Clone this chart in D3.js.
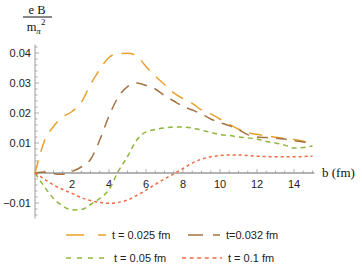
<!DOCTYPE html>
<html>
<head>
<meta charset="utf-8">
<script src="https://cdn.jsdelivr.net/npm/d3@7"></script>
<style>
  body { margin: 0; background: #fff; }
  text { font-family: 'Liberation Sans', Arial, sans-serif; }
</style>
</head>
<body>
<svg id="chart" width="362" height="273"></svg>
<script>
const bValues = d3.range(0, 15.01, 0.5);

const t025 = [0, 0.0105, 0.0155, 0.0187, 0.0205, 0.0235, 0.0295, 0.0345, 0.0385, 0.0398, 0.0399,
  0.0390, 0.0355, 0.0323, 0.0295, 0.0267, 0.0248, 0.0232, 0.0210, 0.0197, 0.0180,
  0.0162, 0.0146, 0.0135, 0.0129, 0.0124, 0.0119, 0.0115, 0.0112, 0.0106, 0.0100];
const t032 = [0, 0.0003, -0.0002, -0.0004, 0.0005, 0.0020, 0.0045, 0.0110, 0.0190, 0.0253, 0.0288,
  0.0300, 0.0292, 0.0280, 0.0258, 0.0240, 0.0222, 0.0210, 0.0197, 0.0180, 0.0168,
  0.0158, 0.0145, 0.0128, 0.0120, 0.0118, 0.0116, 0.0113, 0.0108, 0.0103, 0.0098];
const t05 = [0, -0.0045, -0.0085, -0.0110, -0.0123, -0.0122, -0.0105, -0.0085, -0.0055, 0.0005, 0.0055,
  0.0110, 0.0137, 0.0145, 0.0150, 0.0153, 0.0153, 0.0150, 0.0143, 0.0135, 0.0128,
  0.0125, 0.0120, 0.0117, 0.0113, 0.0105, 0.0100, 0.0093, 0.0083, 0.0085, 0.0090];
const t1 = [0, -0.0020, -0.0040, -0.0055, -0.0068, -0.0082, -0.0092, -0.0098, -0.0101, -0.0098, -0.0090,
  -0.0075, -0.0057, -0.0038, -0.0020, -0.0003, 0.0015, 0.0033, 0.0046, 0.0054, 0.0058,
  0.0060, 0.0060, 0.0058, 0.0056, 0.0055, 0.0054, 0.0054, 0.0054, 0.0055, 0.0056];

const seriesNames = ['t = 0.025 fm', 't=0.032 fm', 't = 0.05 fm', 't = 0.1 fm'];
const seriesValues = [t025, t032, t05, t1];
const colors = ['#e9a02c', '#a37342', '#8fb53c', '#f26a44'];
const dashes = ['13,9', '11,8', '5,4', '3,3'];
const legendDashes = ['18,14', '15,10', '5,6', '4,3.6'];

const xTicks = [2, 4, 6, 8, 10, 12, 14];
const yTicks = [-0.01, 0.01, 0.02, 0.03, 0.04];

const svg = d3.select('#chart');

const x = d3.scaleLinear().domain([0, 15]).range([35, 312.5]);
const y = d3.scaleLinear().domain([0, 0.04]).range([173, 53]);

const axisColor = '#9a9a9a';

// y axis line + ticks
svg.append('line')
  .attr('x1', x(0)).attr('x2', x(0))
  .attr('y1', y(0.0428)).attr('y2', y(-0.0152))
  .attr('stroke', axisColor).attr('stroke-width', 1);

svg.append('g').selectAll('line')
  .data(d3.range(-0.014, 0.0421, 0.002))
  .enter().append('line')
  .attr('x1', x(0))
  .attr('x2', d => Math.abs(Math.round(d * 1000) % 10) === 0 ? x(0) + 4 : x(0) + 2.5)
  .attr('y1', d => y(d)).attr('y2', d => y(d))
  .attr('stroke', axisColor).attr('stroke-width', 0.8);

svg.append('g').selectAll('text')
  .data(yTicks)
  .enter().append('text')
  .attr('x', x(0) - 4)
  .attr('y', d => y(d))
  .attr('dy', '0.35em')
  .attr('text-anchor', 'end')
  .attr('font-size', 11)
  .attr('fill', '#222')
  .text(d => d3.format('.2f')(d));

// x axis
svg.append('g').selectAll('line')
  .data(d3.range(0.5, 15.01, 0.5))
  .enter().append('line')
  .attr('x1', d => x(d)).attr('x2', d => x(d))
  .attr('y1', y(0))
  .attr('y2', d => d % 2 === 0 ? y(0) - 4 : y(0) - 2.5)
  .attr('stroke', axisColor).attr('stroke-width', 0.8);

svg.append('line')
  .attr('x1', x(0)).attr('x2', x(15.1))
  .attr('y1', y(0)).attr('y2', y(0))
  .attr('stroke', axisColor).attr('stroke-width', 1.6);

svg.append('g').selectAll('text')
  .data(xTicks)
  .enter().append('text')
  .attr('x', d => x(d))
  .attr('y', y(0) + 15)
  .attr('text-anchor', 'middle')
  .attr('font-size', 11)
  .attr('fill', '#222')
  .text(d => d);

// curves
const line = d3.line()
  .x((d, i) => x(bValues[i]))
  .y(d => y(d))
  .curve(d3.curveMonotoneX);

svg.append('g').selectAll('path')
  .data(seriesValues)
  .enter().append('path')
  .attr('d', d => line(d))
  .attr('fill', 'none')
  .attr('stroke', (d, i) => colors[i])
  .attr('stroke-width', 1.5)
  .attr('stroke-dasharray', (d, i) => dashes[i]);

// axis labels
const lab = svg.append('g')
  .attr('font-family', "'Liberation Serif', 'Times New Roman', serif")
  .attr('fill', '#111');
lab.append('text')
  .attr('x', 37).attr('y', 14)
  .attr('text-anchor', 'middle')
  .attr('font-size', 12.5)
  .style('font-family', "'Liberation Serif', serif")
  .text('e B');
lab.append('line')
  .attr('x1', 23).attr('x2', 52)
  .attr('y1', 17).attr('y2', 17)
  .attr('stroke', '#111').attr('stroke-width', 1);
const den = lab.append('text')
  .attr('x', 36).attr('y', 31)
  .attr('text-anchor', 'middle')
  .attr('font-size', 12.5)
  .style('font-family', "'Liberation Serif', serif");
den.append('tspan').text('m');
den.append('tspan').attr('dy', 3).attr('font-size', 9).style('font-style', 'italic').text('π');
den.append('tspan').attr('dy', -9).attr('font-size', 9).text('2');

lab.append('text')
  .attr('x', 322).attr('y', 177)
  .attr('font-size', 13)
  .style('font-family', "'Liberation Serif', serif")
  .text('b (fm)');

// legend
const legendPos = [[66, 235], [188, 235], [66, 258], [182, 258]];
const legendLen = [40, 32, 40, 40];
const legendTextX = [112, 226, 114, 228];

const legend = svg.append('g').selectAll('g')
  .data(seriesNames)
  .enter().append('g');

legend.append('line')
  .attr('x1', (d, i) => legendPos[i][0])
  .attr('x2', (d, i) => legendPos[i][0] + legendLen[i])
  .attr('y1', (d, i) => legendPos[i][1])
  .attr('y2', (d, i) => legendPos[i][1])
  .attr('stroke', (d, i) => colors[i])
  .attr('stroke-width', 1.5)
  .attr('stroke-dasharray', (d, i) => legendDashes[i]);

legend.append('text')
  .attr('x', (d, i) => legendTextX[i])
  .attr('y', (d, i) => legendPos[i][1])
  .attr('dy', '0.35em')
  .attr('font-size', 11)
  .attr('fill', '#222')
  .text(d => d);
</script>
</body>
</html>
